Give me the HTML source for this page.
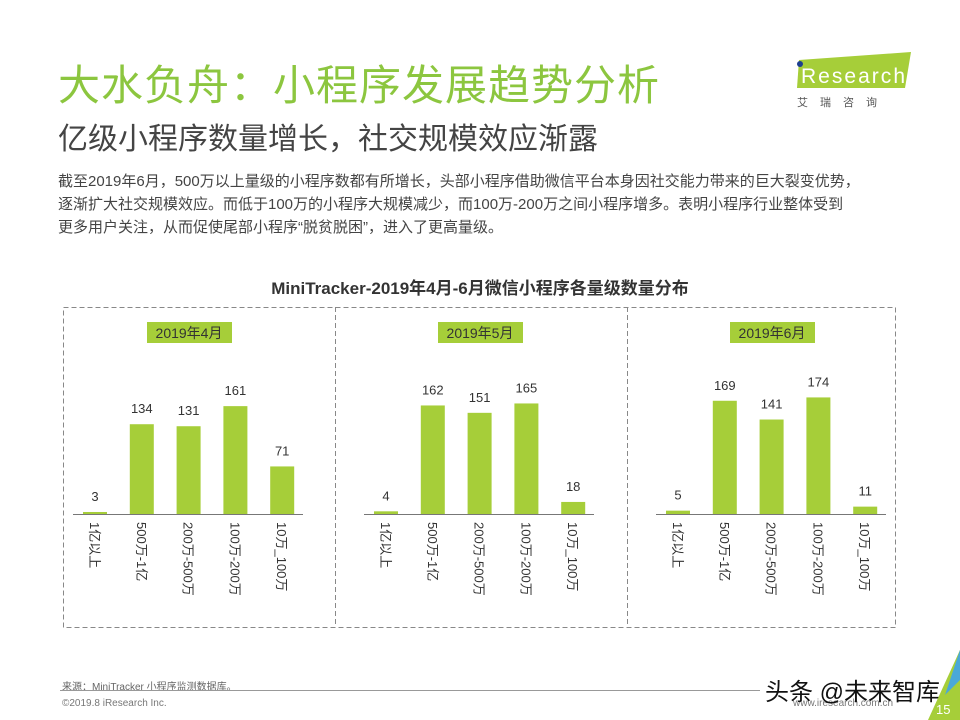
<!DOCTYPE html><html><head><meta charset="utf-8"><style>
body{margin:0;width:960px;height:720px;background:#fff;position:relative;overflow:hidden;font-family:"Liberation Sans","Noto Sans CJK SC",sans-serif}
.a{position:absolute;white-space:nowrap}
</style></head><body>
<div class="a" style="left:58px;top:52px;font-size:42px;color:#8cc63f;letter-spacing:1px">大水负舟：小程序发展趋势分析</div>
<div class="a" style="left:58px;top:114px;font-size:30px;color:#444">亿级小程序数量增长，社交规模效应渐露</div>
<div class="a" style="left:58px;top:170px;font-size:15px;color:#444;line-height:23px">截至2019年6月，500万以上量级的小程序数都有所增长，头部小程序借助微信平台本身因社交能力带来的巨大裂变优势，<br>逐渐扩大社交规模效应。而低于100万的小程序大规模减少，而100万-200万之间小程序增多。表明小程序行业整体受到<br>更多用户关注，从而促使尾部小程序“脱贫脱困”，进入了更高量级。</div>
<svg class="a" style="left:795px;top:48px" width="120" height="62"><polygon points="4,12 116,4 110,40 2,40" fill="#a6ce39"/><circle cx="5" cy="16" r="3" fill="#1d3f8f"/><text x="6" y="35" font-size="21" fill="#fff" font-family="Liberation Sans" textLength="104">Research</text><text x="2" y="58" font-size="11" fill="#555" letter-spacing="12" font-family="Noto Sans CJK SC">艾瑞咨询</text></svg>
<div class="a" style="left:0;width:960px;top:274px;text-align:center;font-size:17px;font-weight:bold;color:#333">MiniTracker-2019年4月-6月微信小程序各量级数量分布</div>
<svg class="a" style="left:0;top:0" width="960" height="720" font-family="Liberation Sans, Noto Sans CJK SC, sans-serif">
<g fill="none" stroke="#888" stroke-dasharray="5,3" stroke-width="1"><rect x="63.5" y="307.5" width="832" height="320"/><line x1="335.5" y1="307" x2="335.5" y2="627"/><line x1="627.5" y1="307" x2="627.5" y2="627"/></g>
<g id="p"></g>
</svg>
<div class="a" style="left:62px;top:678px;font-size:10px;color:#666">来源：MiniTracker 小程序监测数据库。</div>
<div class="a" style="left:60px;top:690px;width:700px;border-top:1px solid #999"></div>
<div class="a" style="left:62px;top:698px;font-size:10px;color:#777">©2019.8 iResearch Inc.</div>
<div class="a" style="left:793px;top:698px;font-size:10px;color:#777">www.iresearch.com.cn</div>
<div class="a" style="left:765px;top:672px;font-size:24px;color:#111">头条 @未来智库</div>
<svg class="a" style="left:920px;top:650px" width="40" height="70"><polygon points="40,0 40,70 8,70" fill="#a6ce39"/><polygon points="40,0 40,30 25,45" fill="#4aa8d8"/><text x="16" y="64" font-size="13" fill="#fff">15</text></svg>
<script>
var d=[[3,134,131,161,71],[4,162,151,165,18],[5,169,141,174,11]],c=[95,386,678],m=["2019年4月","2019年5月","2019年6月"],L=["1亿以上","500万-1亿","200万-500万","100万-200万","10万_100万"],s="";
for(var i=0;i<3;i++){var x0=c[i];
s+='<rect x="'+(x0+52)+'" y="322" width="85" height="21" fill="#a6ce39"/><text x="'+(x0+94)+'" y="338" font-size="14" fill="#333" text-anchor="middle">'+m[i]+'</text>';
s+='<line x1="'+(x0-22)+'" y1="514.5" x2="'+(x0+208)+'" y2="514.5" stroke="#777"/>';
for(var j=0;j<5;j++){var x=x0+j*46.8,h=d[i][j]*0.67;
s+='<rect x="'+(x-12)+'" y="'+(514-h)+'" width="24" height="'+h+'" fill="#a6ce39"/>';
s+='<text x="'+x+'" y="'+(514-h-11)+'" font-size="13" fill="#333" text-anchor="middle">'+d[i][j]+'</text>';
s+='<text transform="translate('+(x-5)+',522) rotate(90)" font-size="13" fill="#333">'+L[j]+'</text>';}}
document.getElementById('p').innerHTML=s;
</script>
</body></html>
